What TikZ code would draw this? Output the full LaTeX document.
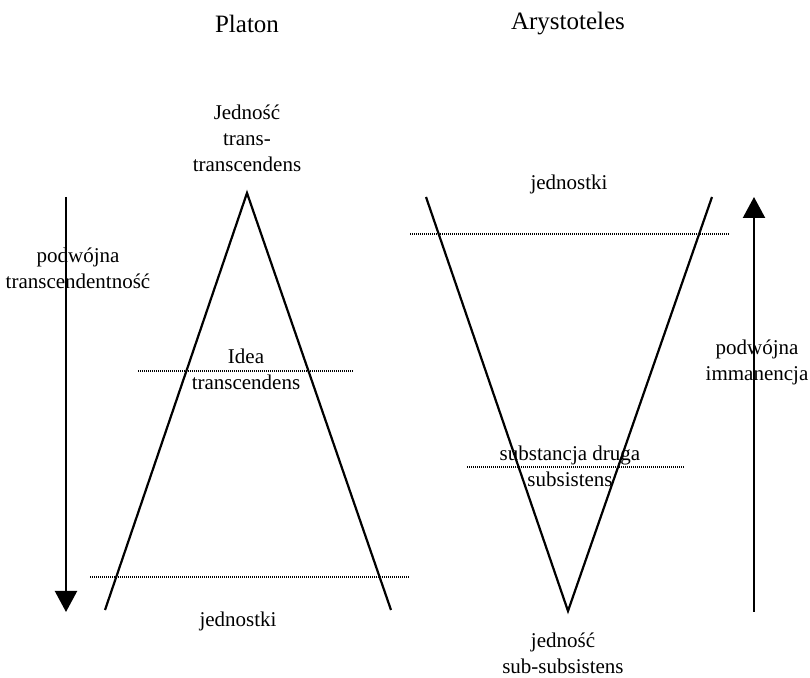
\documentclass[tikz,border=0pt]{standalone}
\usepackage{fontspec}
\setmainfont{Liberation Serif}
\usepackage{tikz}
\usetikzlibrary{arrows.meta,positioning}
\tikzset{
  side/.style={line width=1.1pt,black},
  lvl/.style={line width=0.7pt,dash pattern=on 0.5pt off 0.5pt},
  ar/.style={-{Triangle[length=10.5pt,width=11pt]},line width=1.1pt},
  lbl/.style={align=center,inner sep=0pt,font=\fontsize{10.5}{13}\selectfont},
  ttl/.style={inner sep=0pt,font=\fontsize{12.5}{15}\selectfont}
}
\begin{document}
\begin{tikzpicture}[x=0.5pt,y=-0.5pt]
\useasboundingbox (0,0) rectangle (810,678);
% titles
\node[ttl] (platon) at (247,24) {Platon};
\node[ttl] (arys) at (568,24) {Arystoteles};
% Platon: triangle
\coordinate (pa) at (247,193);
\coordinate (pl) at (105,610);
\coordinate (pr) at (391,610);
\draw[side] (pl) -- (pa) -- (pr);
\coordinate (i1) at (138,371);
\coordinate (i2) at (354,371);
\draw[lvl] (i1) -- (i2);
\coordinate (j1) at (90,577);
\coordinate (j2) at (410,577);
\draw[lvl] (j1) -- (j2);
\node[lbl] (jtt) at (247,138) {Jedność\\trans-\\transcendens};
\node[lbl] (idea) at (246,369) {Idea\\transcendens};
\node[lbl] (jpl) at (238,621) {jednostki};
% left arrow
\coordinate (lt) at (66,197);
\coordinate (lb) at (66,612);
\draw[ar] (lt) -- (lb);
\node[lbl] (ptr) at (78,268) {podwójna\\transcendentność};
% Arystoteles: V
\coordinate (vl) at (426,197);
\coordinate (vr) at (712,197);
\coordinate (vb) at (568,611);
\draw[side] (vl) -- (vb) -- (vr);
\coordinate (k1) at (410,234);
\coordinate (k2) at (730,234);
\draw[lvl] (k1) -- (k2);
\coordinate (s1) at (467,467);
\coordinate (s2) at (685,467);
\draw[lvl] (s1) -- (s2);
\node[lbl] (jar) at (569,184) {jednostki};
\node[lbl] (subs) at (570,466) {substancja druga\\subsistens};
\node[lbl] (jss) at (563,653) {jedność\\sub-subsistens};
% right arrow
\coordinate (rb) at (754,612);
\coordinate (rt) at (754,197);
\draw[ar] (rb) -- (rt);
\node[lbl] (pim) at (757,362) {podwójna\\immanencja};
\end{tikzpicture}
\end{document}
